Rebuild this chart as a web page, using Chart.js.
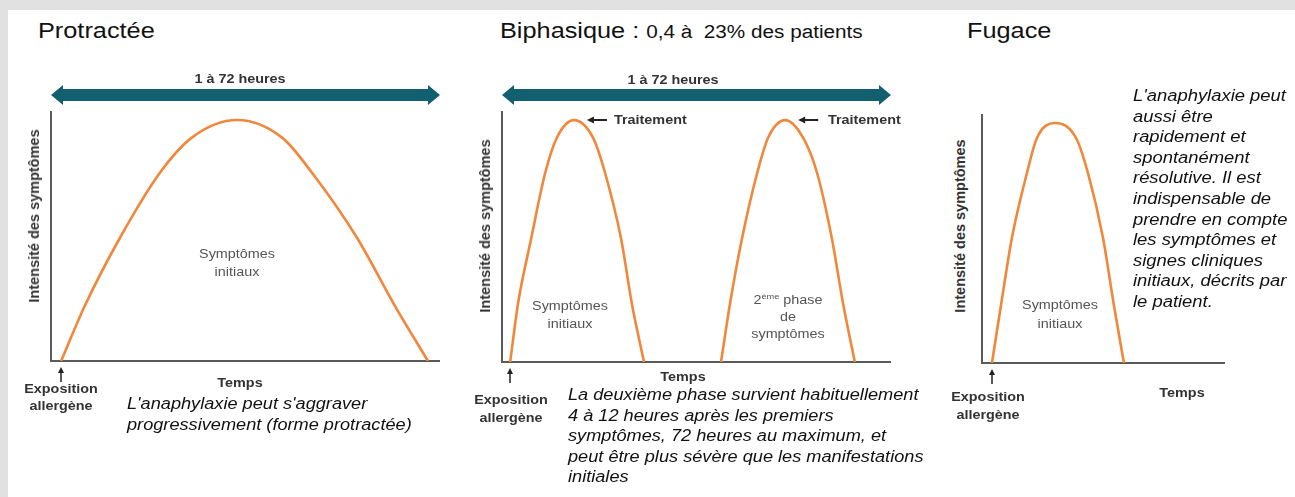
<!DOCTYPE html>
<html lang="fr">
<head>
<meta charset="UTF-8">
<title>Anaphylaxie - formes évolutives</title>
<script src="https://cdn.jsdelivr.net/npm/chart.js"></script>
<style>
    body {
        margin: 0;
        width: 1295px;
        height: 497px;
        background: #e1e1e1;
        overflow: hidden;
        font-family: 'Liberation Sans', Arial, sans-serif;
        position: relative;
    }
    .sheet {
        position: absolute;
        left: 8px; top: 10px; right: 0; bottom: 0;
        background: #fff;
    }
    canvas { position: absolute; }
    .t {
        position: absolute;
        white-space: pre;
        line-height: 20px;
        transform-origin: left center;
        transform: scaleX(1.15);
        color: #111;
    }
    .c {
        transform-origin: center center;
        transform: translateX(-50%) scaleX(1.15);
        text-align: center;
    }
    .title { font-size: 22px; line-height: 24px; }
    .bold { font-weight: bold; font-size: 12.5px; color: #333; }
    .grey { font-size: 12.5px; color: #555; line-height: 18px; }
    .cap { font-style: italic; font-size: 16px; line-height: 20.6px; }
    .rot {
        position: absolute;
        white-space: nowrap;
        font-weight: bold;
        font-size: 14.5px;
        color: #333;
        transform: translate(-50%, -50%) rotate(-90deg);
    }
    sup { font-size: 8px; vertical-align: 5px; }
</style>
</head>
<body>
<div class="sheet"></div>

<canvas id="cProtractee" width="410" height="310" style="left:40px;top:80px"></canvas>
<canvas id="cBiphasique" width="410" height="310" style="left:491px;top:80px"></canvas>
<canvas id="cFugace" width="264" height="310" style="left:971px;top:80px"></canvas>

<!-- titres -->
<div class="t title" style="left:38px;top:19px">Protractée</div>
<div class="t title" style="left:500px;top:19px">Biphasique : <span style="font-size:18px">0,4 à  23% des patients</span></div>
<div class="t title" style="left:967px;top:19px">Fugace</div>

<!-- panneau 1 -->
<div class="t c bold" style="left:240px;top:69px">1 à 72 heures</div>
<div class="rot" style="left:34px;top:216px">Intensité des symptômes</div>
<div class="t c grey" style="left:237px;top:245px">Symptômes<br>initiaux</div>
<div class="t c bold" style="left:240px;top:373px">Temps</div>
<div class="t c bold" style="left:61px;top:381px;line-height:17px">Exposition<br>allergène</div>
<div class="t cap" style="left:127px;top:394px;font-size:15.8px">L'anaphylaxie peut s'aggraver<br>progressivement (forme protractée)</div>

<!-- panneau 2 -->
<div class="t c bold" style="left:673px;top:70px">1 à 72 heures</div>
<div class="rot" style="left:485px;top:226px">Intensité des symptômes</div>
<div class="t bold" style="left:614px;top:110px">Traitement</div>
<div class="t bold" style="left:828px;top:110px">Traitement</div>
<div class="t c grey" style="left:570px;top:297px">Symptômes<br>initiaux</div>
<div class="t c grey" style="left:788px;top:288px;line-height:17px">2<sup>ème</sup> phase<br>de<br>symptômes</div>
<div class="t c bold" style="left:683px;top:367px">Temps</div>
<div class="t c bold" style="left:511px;top:391px;line-height:18px">Exposition<br>allergène</div>
<div class="t cap" style="left:568px;top:385px;font-size:15.8px">La deuxième phase survient habituellement<br>4 à 12 heures après les premiers<br>symptômes, 72 heures au maximum, et<br>peut être plus sévère que les manifestations<br>initiales</div>

<!-- panneau 3 -->
<div class="rot" style="left:960px;top:226px">Intensité des symptômes</div>
<div class="t c grey" style="left:1060px;top:296px;line-height:19px">Symptômes<br>initiaux</div>
<div class="t c bold" style="left:1182px;top:383px">Temps</div>
<div class="t c bold" style="left:988px;top:388px;line-height:18px">Exposition<br>allergène</div>
<div class="t cap" style="left:1133px;top:86px">L'anaphylaxie peut<br>aussi être<br>rapidement et<br>spontanément<br>résolutive. Il est<br>indispensable de<br>prendre en compte<br>les symptômes et<br>signes cliniques<br>initiaux, décrits par<br>le patient.</div>

<script>
// temps (0-100 sur la largeur de l'axe) et intensité (0-100)
const timeProtractee = [2.6, 8.7, 17.7, 28.0, 36.2, 47.8, 59.4, 67.1, 78.7, 88.4, 96.9];
const intensityProtractee = [0, 22, 49, 75, 89, 96, 89, 75, 49, 22, 0];

const timeBiphasique1 = [2.1, 4.1, 7.5, 11.1, 14.1, 18.5, 23.4, 26.5, 30.6, 33.4, 36.5];
const timeBiphasique2 = [56.3, 58.6, 61.7, 65.6, 68.4, 72.8, 77.4, 81.0, 84.8, 87.7, 90.7];
const intensityBiphasique = [0, 23, 49, 75, 89, 96, 89, 75, 49, 23, 0];

const timeFugace = [4.1, 7.8, 12.3, 18.5, 22.6, 30.0, 38.7, 43.6, 49.8, 54.3, 58.4];
const intensityFugace = [0, 23, 50, 76, 90, 96, 90, 76, 50, 23, 0];

const ORANGE = '#f0873a';
const TEAL = '#12606f';
const AXIS = '#5a5a5a';

function toPoints(xs, ys) {
    return xs.map((x, i) => ({ x: x, y: ys[i] }));
}

// axes, double flèche, flèches "exposition" et "traitement"
const schemaPlugin = {
    id: 'schema',
    beforeDatasetsDraw(chart, args, opts) {
        const ctx = chart.ctx;
        const a = chart.chartArea;
        ctx.save();
        ctx.strokeStyle = AXIS;
        ctx.lineWidth = 2;
        ctx.beginPath();
        ctx.moveTo(a.left, a.top + 1);
        ctx.lineTo(a.left, a.bottom);
        ctx.lineTo(a.right, a.bottom);
        ctx.stroke();

        if (opts.bar) {
            const y = a.top - 15;
            ctx.fillStyle = TEAL;
            ctx.beginPath();
            ctx.moveTo(a.left, y);
            ctx.lineTo(a.left + 12, y - 10);
            ctx.lineTo(a.left + 12, y - 6);
            ctx.lineTo(a.right - 12, y - 6);
            ctx.lineTo(a.right - 12, y - 10);
            ctx.lineTo(a.right, y);
            ctx.lineTo(a.right - 12, y + 10);
            ctx.lineTo(a.right - 12, y + 6);
            ctx.lineTo(a.left + 12, y + 6);
            ctx.lineTo(a.left + 12, y + 10);
            ctx.closePath();
            ctx.fill();
        }

        // flèche sous le début de la première courbe
        const xs = chart.scales.x;
        const ys = chart.scales.y;
        const first = chart.data.datasets[0].data[0];
        const ex = Math.round(xs.getPixelForValue(first.x));
        ctx.strokeStyle = '#222';
        ctx.fillStyle = '#222';
        ctx.lineWidth = 1.5;
        ctx.beginPath();
        ctx.moveTo(ex, a.bottom + 11);
        ctx.lineTo(ex, a.bottom + 21);
        ctx.stroke();
        ctx.beginPath();
        ctx.moveTo(ex, a.bottom + 6);
        ctx.lineTo(ex - 3, a.bottom + 12);
        ctx.lineTo(ex + 3, a.bottom + 12);
        ctx.closePath();
        ctx.fill();

        if (opts.treatment) {
            chart.data.datasets.forEach(ds => {
                let peak = ds.data[0];
                ds.data.forEach(p => { if (p.y > peak.y) peak = p; });
                const px = xs.getPixelForValue(peak.x);
                const py = Math.round(ys.getPixelForValue(peak.y));
                ctx.lineWidth = 2;
                ctx.beginPath();
                ctx.moveTo(px + 19, py);
                ctx.lineTo(px + 33, py);
                ctx.stroke();
                ctx.beginPath();
                ctx.moveTo(px + 13, py);
                ctx.lineTo(px + 20, py - 3.5);
                ctx.lineTo(px + 20, py + 3.5);
                ctx.closePath();
                ctx.fill();
            });
        }
        ctx.restore();
    }
};

function makeChart(id, datasets, padding, schema) {
    const ctx = document.getElementById(id).getContext('2d');
    return new Chart(ctx, {
        type: 'line',
        data: {
            datasets: datasets.map(d => ({
                data: d,
                borderColor: ORANGE,
                borderWidth: 2.6,
                pointRadius: 0,
                fill: false,
                cubicInterpolationMode: 'monotone'
            }))
        },
        options: {
            responsive: false,
            animation: false,
            events: [],
            layout: { padding: padding },
            plugins: {
                legend: { display: false },
                tooltip: { enabled: false },
                title: { display: false },
                schema: schema
            },
            scales: {
                x: { type: 'linear', min: 0, max: 100, display: false },
                y: { min: 0, max: 100, display: false }
            }
        },
        plugins: [schemaPlugin]
    });
}

makeChart('cProtractee',
    [toPoints(timeProtractee, intensityProtractee)],
    { left: 11, top: 30, right: 10, bottom: 29 },
    { bar: true, treatment: false });

makeChart('cBiphasique',
    [toPoints(timeBiphasique1, intensityBiphasique), toPoints(timeBiphasique2, intensityBiphasique)],
    { left: 11, top: 30, right: 10, bottom: 28 },
    { bar: true, treatment: true });

makeChart('cFugace',
    [toPoints(timeFugace, intensityFugace)],
    { left: 11, top: 33, right: 10, bottom: 27 },
    { bar: false, treatment: false });
</script>
</body>
</html>
